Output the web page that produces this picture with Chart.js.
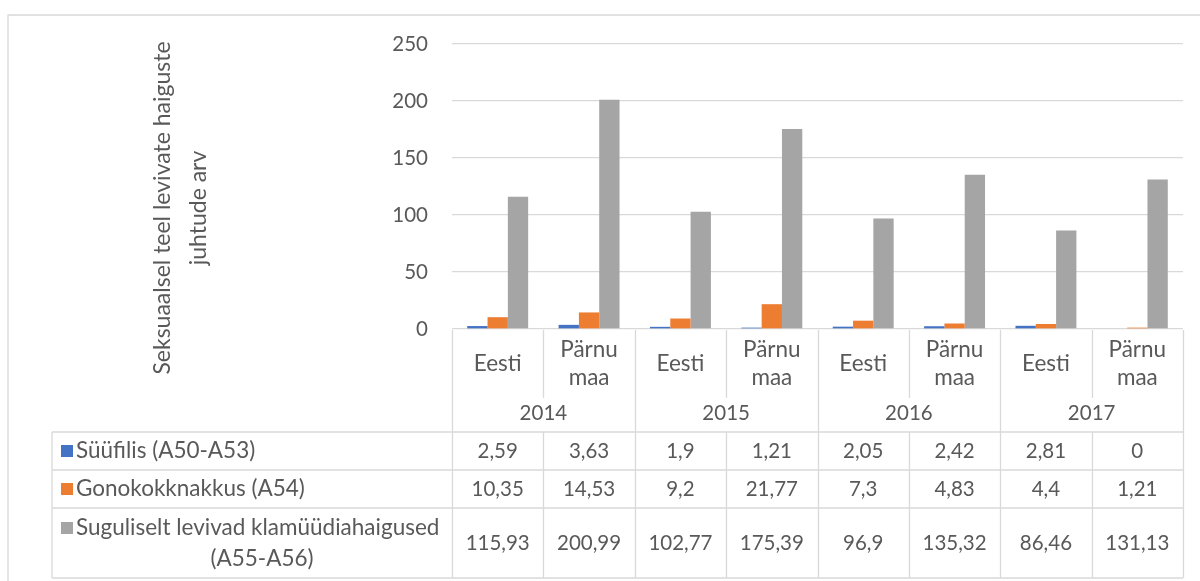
<!DOCTYPE html>
<html>
<head>
<meta charset="utf-8">
<script src="https://cdn.jsdelivr.net/npm/chart.js@4.4.0/dist/chart.umd.min.js"></script>
<style>
  html, body { margin: 0; padding: 0; background: #fff; }
  #wrap { position: relative; width: 1200px; height: 581px; }
</style>
</head>
<body>
<div id="wrap"><canvas id="chart"></canvas></div>
<script>
// data (table values)
const years = ["2014", "2015", "2016", "2017"];
const regions = [["Eesti"], ["Pärnu", "maa"]];
const syphilis = [2.59, 3.63, 1.9, 1.21, 2.05, 2.42, 2.81, 0];
const gonorrhoea = [10.35, 14.53, 9.2, 21.77, 7.3, 4.83, 4.4, 1.21];
const chlamydia = [115.93, 200.99, 102.77, 175.39, 96.9, 135.32, 86.46, 131.13];
const seriesNames = [["Süüfilis (A50-A53)"], ["Gonokokknakkus (A54)"], ["Suguliselt levivad klamüüdiahaigused", "(A55-A56)"]];
const yTitle = ["Seksuaalsel teel levivate haiguste", "juhtude arv"];
const yMax = 250;
const yStep = 50;

const categories = [];
years.forEach(() => regions.forEach(r => categories.push(r)));

const textColor = "#595959";
const lineColor = "#d9d9d9";
const fontFamily = "Lato, 'Open Sans', sans-serif";
const numSize = 20.5;   // digits
const wordSize = 22.5;  // words (Lato letters run a bit narrower than the original)

const fmt = v => String(v).replace(".", ",");

const tablePlugin = {
  id: "dataTable",
  afterDraw(chart) {
    const ctx = chart.ctx;
    const x = chart.scales.x;
    const area = chart.chartArea;
    const n = categories.length;
    const step = (area.right - area.left) / n;
    const edge = i => x.getPixelForValue(0) - step / 2 + i * step;

    const catTop = area.bottom;
    const catBottom = 398;
    const yearBottom = 432;
    const rowBottoms = [470, 508, 578];
    const tableLeft = 52;
    const numFont = numSize + "px " + fontFamily;
    const wordFont = wordSize + "px " + fontFamily;

    ctx.save();
    ctx.strokeStyle = lineColor;
    ctx.lineWidth = 1.3;

    // outer frame (top + left visible)
    ctx.beginPath();
    ctx.moveTo(8, 581);
    ctx.lineTo(8, 15);
    ctx.lineTo(1200, 15);
    ctx.stroke();

    // vertical separators
    ctx.beginPath();
    for (let i = 0; i <= n; i++) {
      const px = Math.round(edge(i)) + 0.5;
      if (i % 2 === 0) {
        ctx.moveTo(px, catTop + 1);
        ctx.lineTo(px, rowBottoms[2]);
      } else {
        ctx.moveTo(px, catTop + 1);
        ctx.lineTo(px, catBottom);
        ctx.moveTo(px, yearBottom);
        ctx.lineTo(px, rowBottoms[2]);
      }
    }
    // table left border
    ctx.moveTo(tableLeft, yearBottom);
    ctx.lineTo(tableLeft, rowBottoms[2]);
    // horizontal lines
    [yearBottom].concat(rowBottoms).forEach(y => {
      ctx.moveTo(tableLeft, y);
      ctx.lineTo(edge(n), y);
    });
    ctx.stroke();

    ctx.fillStyle = textColor;
    ctx.textAlign = "center";
    ctx.textBaseline = "middle";

    // category labels
    ctx.font = wordFont;
    categories.forEach((lines, i) => {
      const cx = x.getPixelForValue(i);
      if (lines.length === 1) {
        ctx.fillText(lines[0], cx, 364);
      } else {
        ctx.fillText(lines[0], cx, 350);
        ctx.fillText(lines[1], cx, 378);
      }
    });
    // year labels
    ctx.font = numFont;
    years.forEach((yr, j) => {
      const cx = (x.getPixelForValue(2 * j) + x.getPixelForValue(2 * j + 1)) / 2;
      ctx.fillText(yr, cx, 413);
    });

    // values
    const rowTops = [yearBottom, rowBottoms[0], rowBottoms[1]];
    chart.data.datasets.forEach((ds, r) => {
      const cy = (rowTops[r] + rowBottoms[r]) / 2;
      ds.data.forEach((v, i) => {
        ctx.fillText(fmt(v), x.getPixelForValue(i), cy);
      });
    });

    // legend keys + series names
    ctx.font = wordFont;
    chart.data.datasets.forEach((ds, r) => {
      const lines = seriesNames[r];
      const cy = lines.length === 1 ? (rowTops[r] + rowBottoms[r]) / 2 : rowTops[r] + 20;
      ctx.fillStyle = ds.backgroundColor;
      ctx.fillRect(61, cy - 6, 12, 12);
      ctx.fillStyle = textColor;
      ctx.textAlign = "left";
      ctx.fillText(lines[0], 76, cy);
      if (lines.length > 1) {
        ctx.textAlign = "center";
        ctx.fillText(lines[1], (tableLeft + area.left) / 2 + 10, cy + 31);
      }
    });

    // y axis title, rotated
    ctx.save();
    ctx.font = (wordSize + 0.5) + "px " + fontFamily;
    ctx.translate(0, 208);
    ctx.rotate(-Math.PI / 2);
    ctx.textAlign = "center";
    ctx.fillText(yTitle[0], 0, 163);
    ctx.fillText(yTitle[1], 0, 199);
    ctx.restore();

    ctx.restore();
  }
};

const config = {
  type: "bar",
  data: {
    labels: categories.map(c => c.join(" ")),
    datasets: [
      {
        label: seriesNames[0].join(" "),
        backgroundColor: "#4472C4",
        data: syphilis,
      },
      {
        label: seriesNames[1].join(" "),
        backgroundColor: "#ED7D31",
        data: gonorrhoea,
      },
      {
        label: seriesNames[2].join(" "),
        backgroundColor: "#A5A5A5",
        data: chlamydia,
      },
    ],
  },
  options: {
    responsive: true,
    maintainAspectRatio: false,
    animation: false,
    devicePixelRatio: 1,
    categoryPercentage: 0.667,
    barPercentage: 1.0,
    layout: {
      padding: { left: 0, right: 17, top: 44, bottom: 252 },
    },
    plugins: {
      legend: { display: false },
      tooltip: { enabled: false },
    },
    scales: {
      x: {
        display: false,
      },
      y: {
        min: 0,
        max: yMax,
        afterFit: s => { s.width = 452; },
        ticks: {
          stepSize: yStep,
          color: textColor,
          padding: 24,
          font: { family: fontFamily, size: numSize },
        },
        grid: {
          color: lineColor,
          lineWidth: 1.3,
          drawTicks: false,
        },
        border: { display: false },
      },
    },
  },
  plugins: [tablePlugin],
};

const ctx = document.getElementById("chart").getContext("2d");
new Chart(ctx, config);
</script>
</body>
</html>
